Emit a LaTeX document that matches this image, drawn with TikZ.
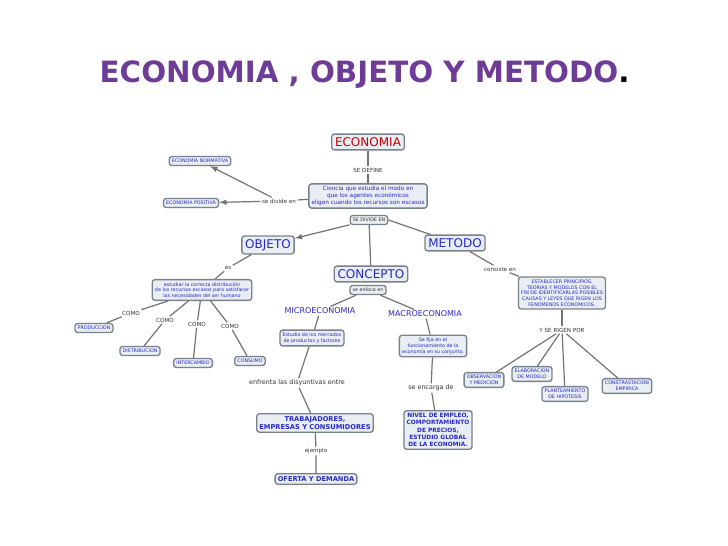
\documentclass[tikz,border=0pt]{standalone}
\usepackage{fontspec}
\setmainfont{DejaVu Sans}
\usetikzlibrary{positioning}
\definecolor{boxfill}{RGB}{232,238,244}
\definecolor{boxline}{RGB}{120,130,140}
\definecolor{ctext}{RGB}{40,40,200}
\definecolor{titlec}{RGB}{110,60,150}
\tikzset{
  box/.style={draw=boxline, fill=boxfill, rounded corners=2pt, line width=1pt, text=ctext, align=center, inner sep=2pt, font=\fontsize{3.6}{4.3}\selectfont},
  bigbox/.style={box, font=\fontsize{9}{10}\selectfont, inner sep=2.5pt},
  midbox/.style={box, font=\bfseries\fontsize{5}{6}\selectfont},
  lbl/.style={fill=white, inner sep=1pt, text=black!80, font=\fontsize{4.2}{5}\selectfont},
  link/.style={draw=black!55, line width=0.9pt},
  arr/.style={link, -latex}
}
\begin{document}
\begin{tikzpicture}[x=0.75pt, y=-0.75pt]
\useasboundingbox (0,0) rectangle (728,546);
\node[text=titlec, font=\bfseries\fontsize{22}{24}\selectfont, anchor=west] (title) at (95,75) {ECONOMIA , OBJETO Y METODO\textcolor{black}{.}};

% Nodes
\node[bigbox, text=red!80!black] (eco) at (368,142) {ECONOMIA};
\node[lbl] (sedef) at (368,170) {SE DEFINE};
\node[box, font=\fontsize{4.3}{5}\selectfont] (ciencia) at (368,196) {Ciencia que estudia el modo en\\que los agentes económicos\\eligen cuando los recursos son escasos};
\node[box, text=black!80] (sediv) at (369,220) {SE DIVIDE EN};
\node[lbl] (divide) at (279,201) {se divide en};
\node[box] (norm) at (200,161) {ECONOMIA NORMATIVA};
\node[box] (posit) at (191,203) {ECONOMIA POSITIVA};
\node[bigbox] (objeto) at (268,245) {OBJETO};
\node[bigbox] (metodo) at (455,243) {METODO};
\node[bigbox] (concepto) at (371,274) {CONCEPTO};

\node[lbl] (es) at (228,268) {es};
\node[box] (estudiar) at (202,290) {estudiar la correcta distribución\\de los recursos escasos para satisfacer\\las necesidades del ser humano};
\node[lbl] (como1) at (131,313) {COMO};
\node[lbl] (como2) at (165,320) {COMO};
\node[lbl] (como3) at (197,324) {COMO};
\node[lbl] (como4) at (230,326) {COMO};
\node[box] (prod) at (94,328) {PRODUCCION};
\node[box] (distr) at (140,351) {DISTRIBUCION};
\node[box] (inter) at (193,363) {INTERCAMBIO};
\node[box] (cons) at (250,361) {CONSUMO};

\node[box, text=black!80] (enfoca) at (368,290) {se enfoca en};
\node[lbl, text=ctext, font=\fontsize{6}{7}\selectfont] (micro) at (320,311) {MICROECONOMIA};
\node[lbl, text=ctext, font=\fontsize{6}{7}\selectfont] (macro) at (425,314) {MACROECONOMIA};
\node[box] (estmerc) at (312,338) {Estudio de los mercados\\de productos y factores};
\node[box] (sefija) at (433,346) {Se fija en el\\funcionamiento de la\\economía en su conjunto.};
\node[lbl, font=\fontsize{4.8}{5.5}\selectfont] (enfrenta) at (297,383) {enfrenta las disyuntivas entre};
\node[lbl, font=\fontsize{4.8}{5.5}\selectfont] (encarga) at (431,388) {se encarga de};
\node[midbox] (trab) at (315,423) {TRABAJADORES,\\EMPRESAS Y CONSUMIDORES};
\node[midbox, font=\bfseries\fontsize{4.4}{5.4}\selectfont] (nivel) at (438,430) {NIVEL DE EMPLEO,\\COMPORTAMIENTO\\DE PRECIOS,\\ESTUDIO GLOBAL\\DE LA ECONOMIA.};
\node[lbl] (ejemplo) at (316,451) {ejemplo};
\node[midbox] (oferta) at (316,479) {OFERTA Y DEMANDA};

\node[lbl] (consiste) at (500,269) {consiste en};
\node[box] (establ) at (562,293) {ESTABLECER PRINCIPIOS,\\TEORIAS Y MODELOS CON EL\\FIN DE IDENTIFICARLAS POSIBLES\\CAUSAS Y LEYES QUE RIGEN LOS\\FENOMENOS ECONOMICOS.};
\node[lbl] (rigen) at (562,330) {Y SE RIGEN POR};
\node[box] (obs) at (484,380) {OBSERVACION\\Y MEDICION};
\node[box] (elab) at (532,374) {ELABORACION\\DE MODELO};
\node[box] (plant) at (565,394) {PLANTEAMIENTO\\DE HIPOTESIS};
\node[box] (contr) at (627,386) {CONSTRASTACION\\EMPIRICA};

% Connectors
\draw[link] (eco) -- (sedef) -- (ciencia);
\draw[link] (ciencia) -- (divide);
\draw[arr] (divide) -- (norm);
\draw[arr] (divide) -- (posit);
\draw[arr] (sediv) -- (objeto);
\draw[link] (sediv) -- (concepto);
\draw[link] (sediv.east) -- (metodo);
\draw[link] (objeto) -- (es) -- (estudiar);
\draw[link] (estudiar) -- (como1) -- (prod);
\draw[link] (estudiar) -- (como2) -- (distr);
\draw[link] (estudiar) -- (como3) -- (inter);
\draw[link] (estudiar) -- (como4) -- (cons);
\draw[link] (enfoca) -- (micro) -- (estmerc);
\draw[link] (enfoca) -- (macro) -- (sefija);
\draw[link] (estmerc) -- (enfrenta) -- (trab);
\draw[link] (sefija) -- (encarga) -- (nivel);
\draw[link] (trab) -- (ejemplo) -- (oferta);
\draw[link] (metodo) -- (consiste) -- (establ);
\draw[link] (establ) -- (rigen);
\foreach \t in {obs, elab, plant, contr} \draw[link] (rigen) -- (\t);
\end{tikzpicture}
\end{document}
